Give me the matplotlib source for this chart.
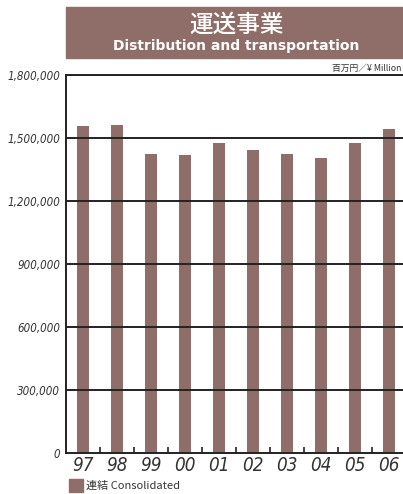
import matplotlib
matplotlib.use("Agg")
import matplotlib.pyplot as plt
from matplotlib.patches import Rectangle
import numpy as np

categories = ["97", "98", "99", "00", "01", "02", "03", "04", "05", "06"]
values = [1557000, 1562000, 1424000, 1419000, 1476000, 1443000, 1424000, 1405000, 1476000, 1543000]
yticks = [0, 300000, 600000, 900000, 1200000, 1500000, 1800000]
ytick_labels = ["0", "300,000", "600,000", "900,000", "1,200,000", "1,500,000", "1,800,000"]

plt.rcParams['font.family'] = ['Noto Sans CJK JP', 'DejaVu Sans']

W, H = 403, 494
fig = plt.figure(figsize=(W / 100, H / 100), dpi=100)
bar_color = "#8f6d68"
tick_font = dict(family=['DejaVu Sans'], fontstretch='condensed', fontstyle='italic')

ax = fig.add_axes([66 / W, (H - 453.3) / H, 340 / W, (453.3 - 75) / H])
x = np.arange(len(categories))
ax.bar(x, values, width=0.37, color=bar_color, zorder=1)
ax.set_xlim(-0.5, len(categories) - 0.5)
ax.set_ylim(0, 1800000)
ax.set_yticks(yticks)
ax.set_yticklabels(ytick_labels, fontsize=8.3, color="#333333", **tick_font)
for y in yticks[1:]:
    ax.axhline(y, color="#222222", lw=1.4, zorder=3)
ax.set_xticks(x)
ax.set_xticklabels(categories, fontsize=13.5, color="#333333", **tick_font)
ax.tick_params(axis='x', length=0, pad=2)
ax.tick_params(axis='y', length=0, pad=4)
ax.set_xticks(np.arange(0.5, len(categories) - 0.5, 1.0), minor=True)
ax.tick_params(axis='x', which='minor', direction='in', length=4, width=1.2, color="#222222")
for s in ax.spines.values():
    s.set_color("#222222")
    s.set_linewidth(1.4)
ax.spines['right'].set_visible(False)

fig.patches.append(Rectangle((66 / W, 1 - 58 / H), (W - 66) / W, 51 / H,
                             transform=fig.transFigure, color=bar_color, zorder=0))
fig.text(236 / W, 1 - 25 / H, "運送事業", color="white", fontsize=17, ha='center', va='center',
         fontweight='medium')
fig.text(236 / W, 1 - 46 / H, "Distribution and transportation", color="white", fontsize=10,
         ha='center', va='center', fontweight='bold', family=['DejaVu Sans'])
fig.text(401 / W, 1 - 68 / H, "百万円／¥ Million", fontsize=6.3, ha='right', va='center',
         color="#333333", family=['Noto Sans CJK JP', 'DejaVu Sans'])

fig.patches.append(Rectangle((69 / W, 1 - 492 / H), 14 / W, 13 / H,
                             transform=fig.transFigure, color=bar_color))
fig.text(86 / W, 1 - 486 / H, "連結 Consolidated", fontsize=8, ha='left', va='center',
         color="#333333")

fig.savefig("out.png", dpi=100)
